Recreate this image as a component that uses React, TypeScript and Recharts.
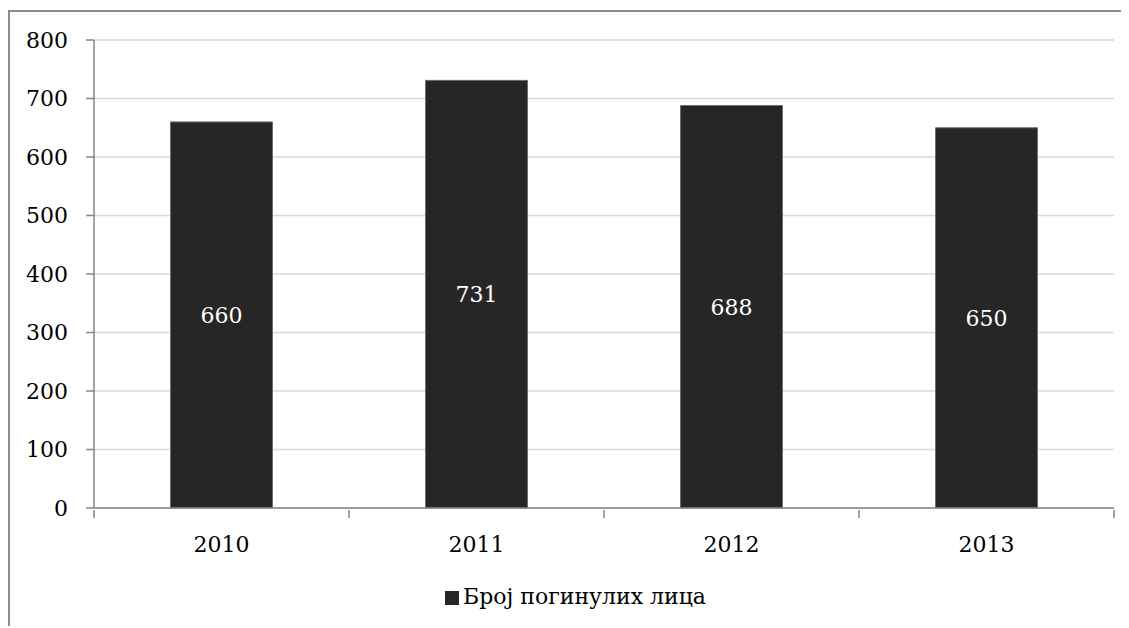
import { BarChart, Bar, XAxis, YAxis, CartesianGrid, Legend, LabelList } from "recharts";

const years = ["2010", "2011", "2012", "2013"];
const deaths = [660, 731, 688, 650];
const yTicks = [0, 100, 200, 300, 400, 500, 600, 700, 800];
const seriesName = "Број погинулих лица";

const data = years.map((year, i) => ({ year, value: deaths[i] }));

const CHART_W = 1111;
const CHART_H = 616;
const Y_AXIS_W = 84;
const MARGIN = { top: 28, right: 7, bottom: 35, left: 0 };
const BAND = (CHART_W - MARGIN.left - MARGIN.right - Y_AXIS_W) / years.length;
const FONT = "'DejaVu Serif', serif";
const AXIS_GRAY = "#868686";

function YearTick(props: any) {
  const { x, y, payload, index } = props;
  const axisY = y;
  return (
    <g>
      <line x1={x - BAND / 2} x2={x - BAND / 2} y1={axisY} y2={axisY + 8} stroke={AXIS_GRAY} strokeWidth={1.5} />
      {index === years.length - 1 && (
        <line x1={x + BAND / 2} x2={x + BAND / 2} y1={axisY} y2={axisY + 8} stroke={AXIS_GRAY} strokeWidth={1.5} />
      )}
      <text x={x} y={axisY + 34} dy="0.35em" textAnchor="middle" fill="#000" fontSize={22} fontFamily={FONT}>
        {payload.value}
      </text>
    </g>
  );
}

export default function App() {
  return (
    <div
      style={{
        position: "relative",
        top: 2,
        width: CHART_W,
        height: CHART_H,
        borderTop: "2px solid #8c8c8c",
        borderLeft: "2px solid #8c8c8c",
        background: "#fff",
      }}
    >
      <style>{`html, body { overflow: hidden; }`}</style>
      <BarChart width={CHART_W} height={CHART_H} data={data} margin={MARGIN} barCategoryGap="30%">
        <CartesianGrid horizontal vertical={false} stroke="#d9d9d9" strokeWidth={1.5} />
        <XAxis
          dataKey="year"
          height={60}
          tickSize={0}
          tickLine={false}
          axisLine={{ stroke: AXIS_GRAY, strokeWidth: 1.5 }}
          tick={<YearTick />}
          interval={0}
        />
        <YAxis
          width={Y_AXIS_W}
          domain={[0, 800]}
          ticks={yTicks}
          tickSize={8}
          tickMargin={18}
          axisLine={{ stroke: AXIS_GRAY, strokeWidth: 1.5 }}
          tickLine={{ stroke: AXIS_GRAY, strokeWidth: 1.5 }}
          tick={{ fill: "#000", fontSize: 22, fontFamily: FONT }}
          interval={0}
        />
        <Legend
          iconType="square"
          iconSize={14}
          wrapperStyle={{ top: 572, left: 15, width: 1111, fontFamily: FONT, fontSize: 22 }}
          formatter={(v) => <span style={{ color: "#000" }}>{v}</span>}
        />
        <Bar
          dataKey="value"
          name={seriesName}
          fill="#262626"
          stroke="#6e6e6e"
          strokeWidth={1}
          isAnimationActive={false}
        >
          <LabelList dataKey="value" position="center" fill="#fff" stroke="none" fontSize={22} fontFamily={FONT} />
        </Bar>
      </BarChart>
    </div>
  );
}
